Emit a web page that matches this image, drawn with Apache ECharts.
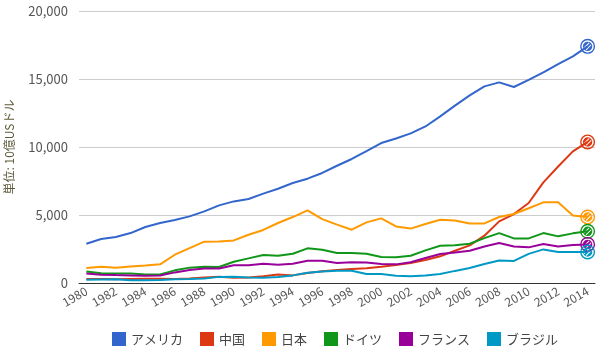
<!DOCTYPE html>
<html>
<head>
<meta charset="utf-8">
<script src="https://cdn.jsdelivr.net/npm/echarts@6/dist/echarts.min.js"></script>
<style>
html,body{margin:0;padding:0;background:#fff;}
#c{width:605px;height:348px;}
</style>
</head>
<body>
<div id="c"></div>
<script>
const years = [];
for (let y = 1980; y <= 2014; y++) years.push(String(y));

const usa = [2890,3230,3380,3670,4120,4410,4630,4900,5270,5710,6000,6180,6570,6930,7350,7670,8090,8620,9120,9700,10290,10630,11000,11510,12250,13040,13800,14460,14750,14410,14930,15490,16100,16660,17400];
const china = [300,290,280,300,310,310,300,330,410,460,390,410,490,620,560,730,860,960,1030,1090,1200,1330,1470,1690,1960,2370,2770,3480,4530,5070,5880,7400,8570,9680,10370];
const japan = [1100,1200,1120,1220,1290,1370,2080,2570,3040,3060,3130,3550,3900,4410,4850,5340,4700,4290,3920,4460,4750,4160,4000,4340,4650,4600,4380,4380,4850,5070,5500,5930,5930,4970,4850];
const germany = [850,710,690,690,620,630,930,1130,1200,1180,1560,1810,2060,2000,2150,2550,2450,2200,2200,2150,1910,1890,2000,2400,2740,2770,2890,3300,3670,3280,3280,3670,3430,3650,3800];
const france = [690,610,580,560,530,550,780,960,1060,1060,1300,1300,1420,1350,1420,1640,1640,1470,1520,1500,1400,1370,1520,1840,2130,2250,2370,2690,2940,2690,2620,2870,2690,2800,2840];
const brazil = [240,260,280,200,200,220,270,290,330,450,460,410,390,440,560,750,850,900,900,660,660,540,500,550,660,890,1100,1400,1660,1620,2140,2470,2280,2280,2280];

const seriesNames = ['アメリカ','中国','日本','ドイツ','フランス','ブラジル'];
const seriesData = [usa, china, japan, germany, france, brazil];
const colors = ['#3366cc','#dc3912','#ff9900','#109618','#990099','#0099c6'];
const yTicks = [0, 5000, 10000, 15000, 20000];

// ring + hatched inner disk marker (nonzero fill: outer CW, hole CCW, disk CW, stripe holes CCW)
function stripe(d, w, L) {
  const cx = 7 + d * 0.7071, cy = 7 + d * 0.7071;
  const ux = 0.7071, uy = -0.7071, nx = 0.7071, ny = 0.7071;
  const A = [cx - L*ux - w/2*nx, cy - L*uy - w/2*ny];
  const B = [cx + L*ux - w/2*nx, cy + L*uy - w/2*ny];
  const C = [cx + L*ux + w/2*nx, cy + L*uy + w/2*ny];
  const D = [cx - L*ux + w/2*nx, cy - L*uy + w/2*ny];
  const f = p => p[0].toFixed(2) + ' ' + p[1].toFixed(2);
  return 'M' + f(A) + 'L' + f(D) + 'L' + f(C) + 'L' + f(B) + 'Z';
}
const RING = 'path://M0 7A7 7 0 1 1 14 7A7 7 0 1 1 0 7Z' +
  'M1.3 7A5.7 5.7 0 1 0 12.7 7A5.7 5.7 0 1 0 1.3 7Z' +
  'M2.6 7A4.4 4.4 0 1 1 11.4 7A4.4 4.4 0 1 1 2.6 7Z' +
  stripe(-1.3, 0.9, 3.4) + stripe(1.3, 0.9, 3.4);

const last = years.length - 1;
const FONT = '"Noto Sans CJK JP", "Noto Sans", sans-serif';

const chart = echarts.init(document.getElementById('c'), null, {renderer: 'canvas'});
chart.setOption({
  animation: false,
  color: colors,
  textStyle: {fontFamily: FONT},
  grid: {left: 79, right: 10, top: 11, bottom: 65, containLabel: false, outerBoundsMode: 'none'},
  legend: {
    data: seriesNames,
    left: 107,
    top: 327,
    icon: 'rect',
    itemWidth: 14,
    itemHeight: 14,
    itemGap: 17,
    textStyle: {fontSize: 13, color: '#444', fontFamily: FONT}
  },
  xAxis: {
    type: 'category',
    data: years,
    boundaryGap: true,
    axisLine: {lineStyle: {color: '#333', width: 1}},
    axisTick: {show: false},
    axisLabel: {interval: 1, rotate: 30, fontSize: 12, color: '#555', margin: 7, fontFamily: FONT}
  },
  yAxis: {
    type: 'value',
    min: yTicks[0],
    max: yTicks[yTicks.length - 1],
    interval: yTicks[1] - yTicks[0],
    name: '単位: 10億USドル',
    nameLocation: 'middle',
    nameGap: 64,
    nameTextStyle: {fontSize: 12, color: '#5f5a3c', fontFamily: FONT},
    axisLine: {show: false},
    axisTick: {show: false},
    splitLine: {lineStyle: {color: '#cccccc'}},
    axisLabel: {
      fontSize: 13, color: '#555', margin: 11, fontFamily: FONT,
      formatter: v => v.toLocaleString('en-US')
    }
  },
  series: seriesNames.map((n, i) => ({
    name: n,
    type: 'line',
    data: seriesData[i],
    showSymbol: true,
    showAllSymbol: true,
    symbol: RING,
    symbolSize: (v, p) => p.dataIndex === last ? 15 : 0,
    symbolKeepAspect: true,
    lineStyle: {width: 2},
    itemStyle: {color: colors[i], borderWidth: 0},
    emphasis: {disabled: true},
    z: 2
  }))
});
</script>
</body>
</html>
